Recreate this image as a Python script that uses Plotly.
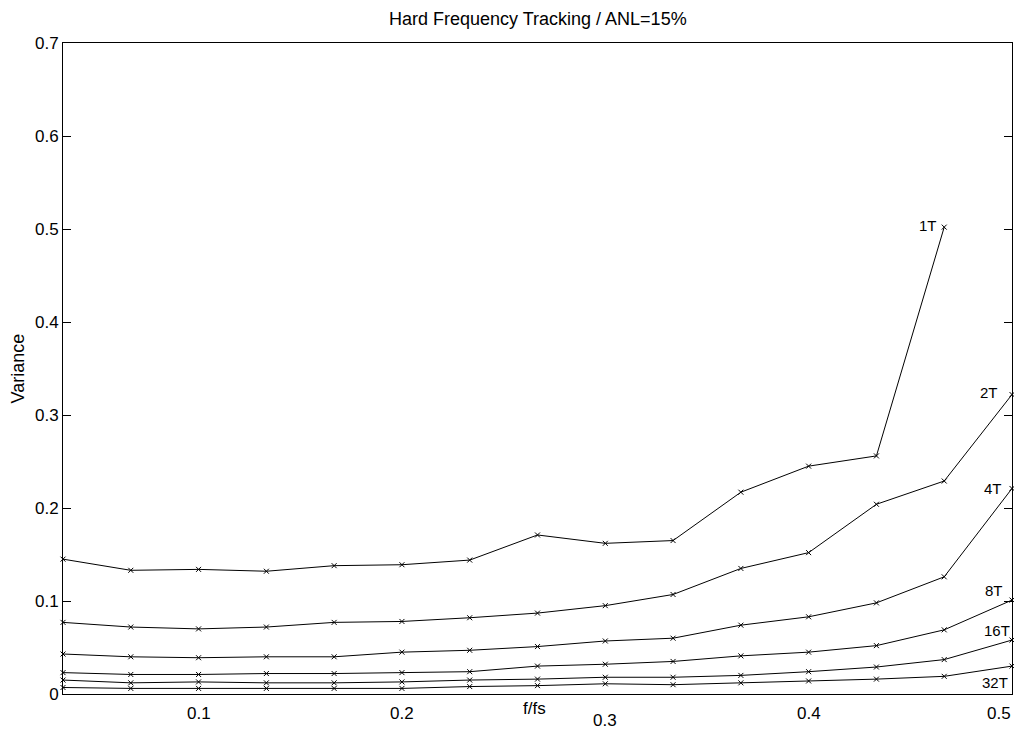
import plotly.graph_objects as go

# Normalised frequency grid (f/fs = k/30)
freq = [k / 30 for k in range(1, 16)]

var_1t = [0.145, 0.133, 0.134, 0.132, 0.138, 0.139, 0.144, 0.171, 0.162, 0.165,
          0.217, 0.245, 0.256, 0.502]
var_2t = [0.077, 0.072, 0.070, 0.072, 0.077, 0.078, 0.082, 0.087, 0.095, 0.107,
          0.135, 0.152, 0.204, 0.229, 0.322]
var_4t = [0.043, 0.040, 0.039, 0.040, 0.040, 0.045, 0.047, 0.051, 0.057, 0.060,
          0.074, 0.083, 0.098, 0.126, 0.221]
var_8t = [0.023, 0.021, 0.021, 0.022, 0.022, 0.023, 0.024, 0.030, 0.032, 0.035,
          0.041, 0.045, 0.052, 0.069, 0.101]
var_16t = [0.015, 0.012, 0.013, 0.012, 0.012, 0.013, 0.015, 0.016, 0.018, 0.018,
           0.020, 0.024, 0.029, 0.037, 0.058]
var_32t = [0.007, 0.006, 0.006, 0.006, 0.006, 0.006, 0.008, 0.009, 0.011, 0.010,
           0.012, 0.014, 0.016, 0.019, 0.030]

series_names = ["1T", "2T", "4T", "8T", "16T", "32T"]
series_values = [var_1t, var_2t, var_4t, var_8t, var_16t, var_32t]

x_tick_vals = [0.1, 0.2, 0.3, 0.4, 0.5]
x_tick_text = ["0.1", "0.2", "0.3", "0.4", "0.5"]
y_tick_vals = [0, 0.1, 0.2, 0.3, 0.4, 0.5, 0.6, 0.7]
y_tick_text = ["0", "0.1", "0.2", "0.3", "0.4", "0.5", "0.6", "0.7"]

FONT = "Liberation Sans, Arial, Helvetica, sans-serif"

# label offsets (pixels) next to each curve's last point
label_shift = {
    "1T": (-5, 2), "2T": (-12, 2), "4T": (-8, 0),
    "8T": (-7, 10), "16T": (0, 10), "32T": (-2, -16),
}

fig = go.Figure()
annotations = []
for name, vals in zip(series_names, series_values):
    xs = freq[:len(vals)]
    fig.add_trace(go.Scatter(
        x=xs, y=vals, mode="lines+markers", name=name,
        line=dict(color="black", width=1),
        marker=dict(symbol="x-thin", size=5, line=dict(color="black", width=1)),
        cliponaxis=False, showlegend=False,
    ))
    dx, dy = label_shift[name]
    annotations.append(dict(
        x=xs[-1], y=vals[-1], xref="x", yref="y", text=name, showarrow=False,
        xanchor="right", yanchor="middle", xshift=dx, yshift=dy,
        font=dict(family=FONT, size=15, color="black"),
    ))

# x tick labels (0.3 sits lower, next to the axis title)
tick_y_shift = {"0.3": -26}
for v, t in zip(x_tick_vals, x_tick_text):
    annotations.append(dict(
        x=v, y=0, xref="x", yref="paper", text=t, showarrow=False,
        xanchor="right" if v == 0.5 else "center", yanchor="middle",
        yshift=tick_y_shift.get(t, -19), xshift=1 if v == 0.5 else 0,
        font=dict(family=FONT, size=17, color="black"),
    ))

annotations.append(dict(
    x=0.497, y=0, xref="paper", yref="paper", text="f/fs", showarrow=False,
    xanchor="center", yanchor="middle", yshift=-14,
    font=dict(family=FONT, size=17, color="black"),
))
annotations.append(dict(
    x=0, y=0.5, xref="paper", yref="paper", text="Variance", showarrow=False,
    xanchor="center", yanchor="middle", xshift=-46, textangle=-90,
    font=dict(family=FONT, size=18, color="black"),
))
annotations.append(dict(
    x=0.5, y=1, xref="paper", yref="paper",
    text="Hard Frequency Tracking / ANL=15%", showarrow=False,
    xanchor="center", yanchor="middle", yshift=24,
    font=dict(family=FONT, size=18, color="black"),
))

fig.update_layout(
    width=1014, height=731,
    margin=dict(l=63, r=2, t=43, b=37),
    paper_bgcolor="white", plot_bgcolor="white",
    annotations=annotations,
    xaxis=dict(
        range=[1 / 30, 0.5], showgrid=False, zeroline=False,
        showline=True, linecolor="black", linewidth=1, mirror=True,
        ticks="", showticklabels=False,
    ),
    yaxis=dict(
        range=[0, 0.7], showgrid=False, zeroline=False,
        showline=True, linecolor="black", linewidth=1, mirror="ticks",
        ticks="inside", ticklen=8, tickcolor="black",
        tickvals=y_tick_vals, ticktext=y_tick_text,
        tickfont=dict(family=FONT, size=17, color="black"),
    ),
)

fig.write_html("out.html")
